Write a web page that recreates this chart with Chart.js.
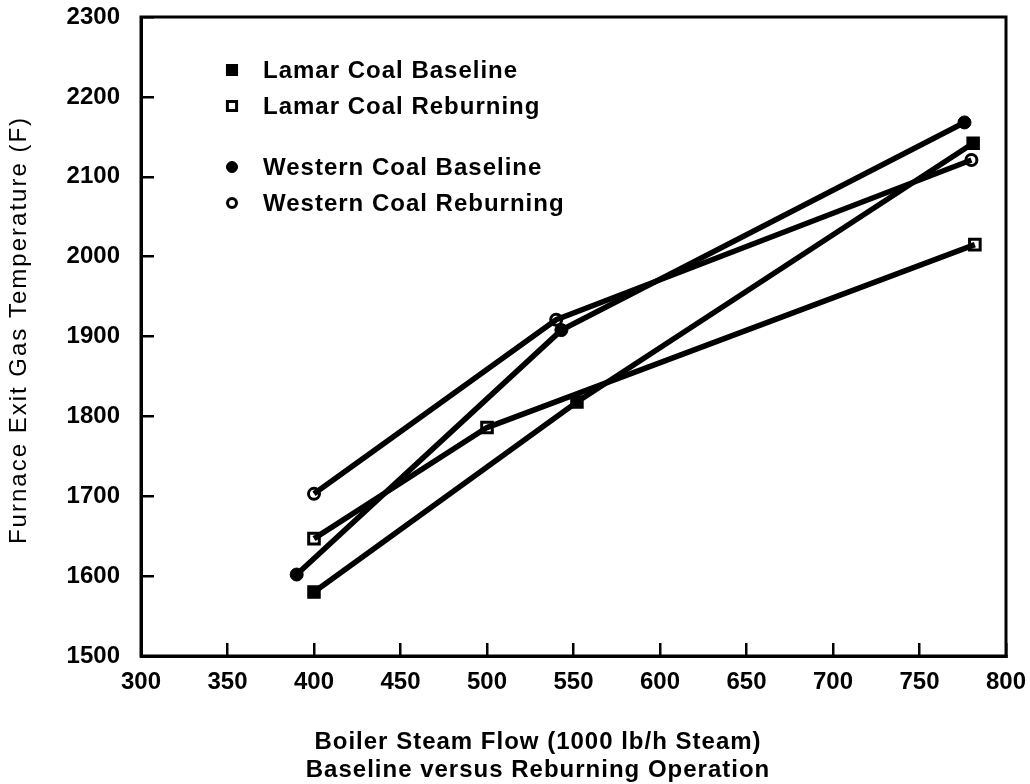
<!DOCTYPE html>
<html>
<head>
<meta charset="utf-8">
<title>Furnace Exit Gas Temperature</title>
<script src="https://cdn.jsdelivr.net/npm/chart.js@4.4.1/dist/chart.umd.min.js"></script>
<style>
  html, body { margin: 0; padding: 0; background: #fff; }
  canvas { display: block; }
</style>
</head>
<body>
<canvas id="myChart" width="1030" height="784"></canvas>
<script>
    // axis ticks
    var xTicks = [300, 350, 400, 450, 500, 550, 600, 650, 700, 750, 800]
    var yTicks = [1500, 1600, 1700, 1800, 1900, 2000, 2100, 2200, 2300]

    // steam flow (1000 lb/h) and furnace exit gas temperature (F)
    var lamarBaselineFlow = [400, 552, 781]
    var lamarBaselineTemp = [1580, 1818, 2142]
    var lamarReburnFlow = [400, 500, 782]
    var lamarReburnTemp = [1647, 1786, 2015]
    var westernBaselineFlow = [390, 543, 776]
    var westernBaselineTemp = [1602, 1908, 2168]
    var westernReburnFlow = [400, 540, 780]
    var westernReburnTemp = [1703, 1921, 2121]

    var seriesNames = ['Lamar Coal Baseline', 'Lamar Coal Reburning', 'Western Coal Baseline', 'Western Coal Reburning']

    var xTitle = ['Boiler Steam Flow (1000 lb/h Steam)', 'Baseline versus Reburning Operation']
    var yTitle = 'Furnace Exit Gas Temperature (F)'

    var fontFamily = '"Liberation Sans", Arial, sans-serif'

    function toPoints(xs, ys) {
        return xs.map(function(x, i) { return {x: x, y: ys[i]} })
    }

    var series = [
        {name: seriesNames[0], data: toPoints(lamarBaselineFlow, lamarBaselineTemp), style: 'rect', radius: 8.5, fill: '#000', border: 1.5},
        {name: seriesNames[1], data: toPoints(lamarReburnFlow, lamarReburnTemp), style: 'rect', radius: 7.5, fill: '#fff', border: 3},
        {name: seriesNames[2], data: toPoints(westernBaselineFlow, westernBaselineTemp), style: 'circle', radius: 6.5, fill: '#000', border: 1},
        {name: seriesNames[3], data: toPoints(westernReburnFlow, westernReburnTemp), style: 'circle', radius: 5.5, fill: '#fff', border: 3}
    ]

    var datasets = []
    // lines first, markers afterwards so the open symbols sit on top
    series.forEach(function(s) {
        datasets.push({
            label: s.name,
            data: s.data,
            showLine: true,
            borderColor: '#000',
            borderWidth: 5.5,
            tension: 0,
            pointRadius: 0,
            pointHoverRadius: 0
        })
    })
    series.forEach(function(s) {
        datasets.push({
            label: s.name + ' points',
            data: s.data,
            showLine: false,
            pointStyle: s.style,
            pointRadius: s.radius,
            pointHoverRadius: s.radius,
            pointBackgroundColor: s.fill,
            pointBorderColor: '#000',
            pointBorderWidth: s.border
        })
    })

    function drawMarker(ctx, s, x, y, r) {
        ctx.save()
        ctx.fillStyle = s.fill
        ctx.strokeStyle = '#000'
        ctx.lineWidth = s.border
        ctx.beginPath()
        if (s.style === 'rect') {
            var h = r * Math.SQRT1_2
            ctx.rect(x - h, y - h, 2 * h, 2 * h)
        } else {
            ctx.arc(x, y, r, 0, Math.PI * 2)
        }
        ctx.fill()
        ctx.stroke()
        ctx.restore()
    }

    var framePlugin = {
        id: 'frame',
        afterDraw: function(chart) {
            var ctx = chart.ctx
            var a = chart.chartArea
            ctx.save()
            ctx.strokeStyle = '#000'
            ctx.lineWidth = 3
            ctx.strokeRect(a.left, a.top, a.right - a.left, a.bottom - a.top)
            ctx.restore()
        }
    }

    var legendPlugin = {
        id: 'insideLegend',
        afterDraw: function(chart) {
            var ctx = chart.ctx
            var a = chart.chartArea
            var rows = [53, 89, 150, 186]
            ctx.save()
            ctx.font = 'bold 24px ' + fontFamily
            ctx.letterSpacing = '1px'
            ctx.fillStyle = '#000'
            ctx.textBaseline = 'middle'
            ctx.textAlign = 'left'
            series.forEach(function(s, i) {
                var y = a.top + rows[i]
                drawMarker(ctx, s, a.left + 91, y, s.radius - 1)
                ctx.fillText(s.name, a.left + 122, y + 1)
            })
            ctx.restore()
        }
    }

    var titlePlugin = {
        id: 'axisTitles',
        afterDraw: function(chart) {
            var ctx = chart.ctx
            var a = chart.chartArea
            ctx.save()
            ctx.fillStyle = '#000'
            ctx.textAlign = 'center'
            ctx.textBaseline = 'middle'

            ctx.font = 'bold 24px ' + fontFamily
            ctx.letterSpacing = '1px'
            ctx.fillText(xTitle[0], a.left + 397, 742)
            ctx.fillText(xTitle[1], a.left + 397, 770)

            ctx.translate(19, 330)
            ctx.rotate(-Math.PI / 2)
            ctx.font = '24px ' + fontFamily
            ctx.letterSpacing = '2px'
            ctx.fillText(yTitle, 0, 0)
            ctx.restore()
        }
    }

    var tickFont = { family: fontFamily, size: 24, weight: 'bold' }

    var ctx = document.getElementById('myChart').getContext('2d');
    var myChart = new Chart(ctx, {
        type: 'scatter',
        data: {
            datasets: datasets
        },
        plugins: [framePlugin, legendPlugin, titlePlugin],
        options: {
            responsive: false,
            animation: false,
            devicePixelRatio: 1,
            layout: {
                padding: {left: 0, right: 24, top: 17, bottom: 0}
            },
            plugins: {
                legend: { display: false },
                tooltip: { enabled: false }
            },
            scales: {
                x: {
                    type: 'linear',
                    min: xTicks[0],
                    max: xTicks[xTicks.length - 1],
                    afterBuildTicks: function(scale) {
                        scale.ticks = xTicks.map(function(v) { return {value: v} })
                    },
                    afterFit: function(scale) {
                        scale.height = 128
                        scale.paddingLeft = 0
                        scale.paddingRight = 0
                    },
                    border: { display: true, color: '#000', width: 3 },
                    grid: {
                        drawOnChartArea: false,
                        drawTicks: true,
                        tickLength: -13,
                        color: '#000',
                        lineWidth: 2.5
                    },
                    ticks: {
                        color: '#000',
                        padding: 25,
                        maxRotation: 0,
                        font: tickFont,
                        callback: function(v) { return String(v) }
                    }
                },
                y: {
                    type: 'linear',
                    min: yTicks[0],
                    max: yTicks[yTicks.length - 1],
                    afterBuildTicks: function(scale) {
                        scale.ticks = yTicks.map(function(v) { return {value: v} })
                    },
                    afterFit: function(scale) {
                        scale.width = 141
                        scale.paddingTop = 0
                        scale.paddingBottom = 0
                    },
                    border: { display: true, color: '#000', width: 3 },
                    grid: {
                        drawOnChartArea: false,
                        drawTicks: true,
                        tickLength: -13,
                        color: '#000',
                        lineWidth: 2.5
                    },
                    ticks: {
                        color: '#000',
                        padding: 34,
                        font: tickFont,
                        callback: function(v) { return String(v) }
                    }
                }
            }
        }
    });
</script>
</body>
</html>
